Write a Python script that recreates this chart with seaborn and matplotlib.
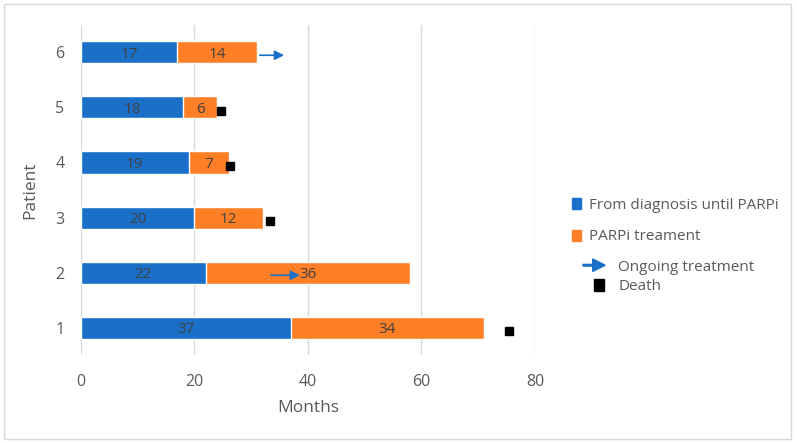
import matplotlib
matplotlib.use("Agg")
import pandas as pd
import matplotlib.pyplot as plt
import seaborn as sns
from matplotlib.patches import Patch, FancyArrow, Rectangle
from matplotlib.legend_handler import HandlerPatch

# data
patients = ["6", "5", "4", "3", "2", "1"]
diag_months = [17, 18, 19, 20, 22, 37]
parpi_months = [14, 6, 7, 12, 36, 34]
death_patients = ["5", "4", "3", "1"]
death_months = [24.6, 26.3, 33.3, 75.5]
ongoing_patients = ["6", "2"]
ongoing_start = [31.5, 33.5]
ongoing_end = [35.8, 38.6]
x_ticks = [0, 20, 40, 60, 80]

blue = "#1a70c8"
orange = "#ff7f27"
grey = "#595959"

sns.set_style("white")
plt.rcParams["font.family"] = ["Open Sans", "DejaVu Sans"]

df = pd.DataFrame({"Patient": patients, "diag": diag_months, "parpi": parpi_months})
df["total"] = df["diag"] + df["parpi"]
pos = {p: i for i, p in enumerate(patients)}

fig = plt.figure(figsize=(7.97, 4.43), dpi=100)
ax = fig.add_axes([0.1016, 0.1986, 0.5696, 0.745])

sns.barplot(data=df, x="total", y="Patient", order=patients, color=orange,
            width=0.4, saturation=1, ax=ax)
sns.barplot(data=df, x="diag", y="Patient", order=patients, color=blue,
            width=0.4, saturation=1, ax=ax)

# segment labels
for _, r in df.iterrows():
    y = pos[r["Patient"]]
    ax.text(r["diag"] / 2, y + 0.03, str(r["diag"]), ha="center", va="center",
            fontsize=11, color="#404040")
    ax.text(r["diag"] + r["parpi"] / 2, y + 0.03, str(r["parpi"]), ha="center",
            va="center", fontsize=11, color="#404040")

# death markers
ax.plot(death_months, [pos[p] + 0.07 for p in death_patients], "s",
        color="black", markersize=6, linestyle="none")

# ongoing arrows
for p, s, e in zip(ongoing_patients, ongoing_start, ongoing_end):
    y = pos[p] + 0.05
    ax.annotate("", xy=(e, y), xytext=(s, y),
                arrowprops=dict(arrowstyle="-|>", color=blue, lw=1.2,
                                mutation_scale=14, shrinkA=0, shrinkB=0))

ax.set_xlim(0, 80)
ax.set_ylim(5.5, -0.5)
ax.set_xticks(x_ticks)
ax.xaxis.grid(True, color="#d9d9d9", linewidth=1)
ax.set_axisbelow(True)
sns.despine(ax=ax, left=True, bottom=True)
ax.tick_params(axis="both", length=0, labelsize=11.5, labelcolor=grey)
ax.tick_params(axis="x", pad=14)
ax.tick_params(axis="y", pad=12)
ax.set_xlabel("Months", fontsize=12.5, color=grey, labelpad=7)
ax.set_ylabel("Patient", fontsize=12.5, color=grey, labelpad=12)


def make_arrow(legend, orig_handle, xdescent, ydescent, width, height, fontsize):
    return FancyArrow(0, height / 2, width, 0, width=1.2,
                      head_width=9, head_length=9, length_includes_head=True,
                      color=blue)


def make_square(legend, orig_handle, xdescent, ydescent, width, height, fontsize):
    return Rectangle((width - 8, height / 2 - 4.5), 7, 9, color="black")


leg1 = fig.legend(handles=[Patch(color=blue, label="From diagnosis until PARPi"),
                           Patch(color=orange, label="PARPi treament")],
                  loc="center left", bbox_to_anchor=(0.7177, 0.501),
                  frameon=False, fontsize=11, labelcolor=grey, handlelength=0.6,
                  handleheight=0.75, handletextpad=0.5, labelspacing=1.1,
                  borderpad=0, borderaxespad=0)

arrow_h = Patch(color=blue, label="Ongoing treatment")
death_h = Patch(color="black", label="Death")
leg2 = fig.legend(handles=[arrow_h, death_h],
                  loc="center left", bbox_to_anchor=(0.7315, 0.375),
                  frameon=False, fontsize=11, labelcolor=grey, handlelength=1.45,
                  handletextpad=0.85, labelspacing=0.3,
                  borderpad=0, borderaxespad=0,
                  handler_map={arrow_h: HandlerPatch(patch_func=make_arrow),
                               death_h: HandlerPatch(patch_func=make_square)})

# outer border
fig.patches.append(Rectangle((0.005, 0.01), 0.988, 0.98, transform=fig.transFigure,
                             fill=False, edgecolor="#d9d9d9", linewidth=1))

plt.savefig("out.png", dpi=100)
